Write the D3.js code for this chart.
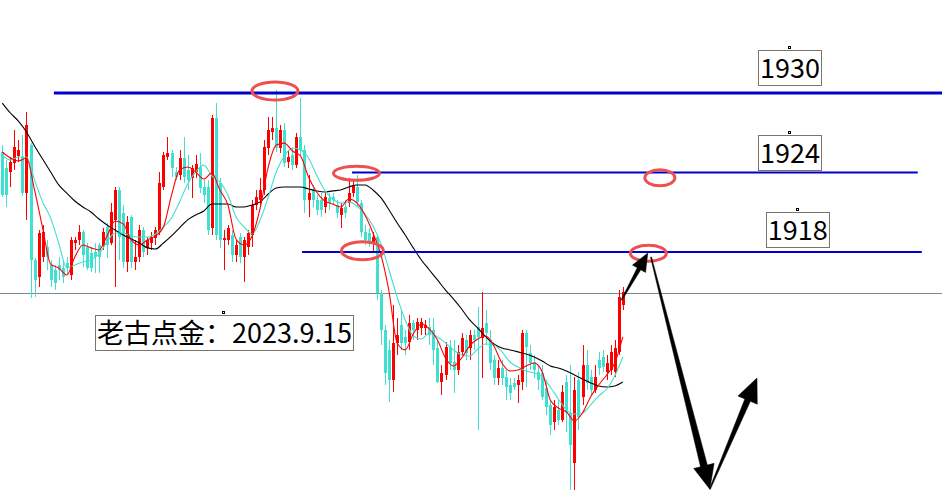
<!DOCTYPE html>
<html>
<head>
<meta charset="utf-8">
<script src="https://cdn.jsdelivr.net/npm/d3@7"></script>
<style>
  html, body { margin: 0; padding: 0; background: #ffffff; overflow: hidden; }
  svg { display: block; }
</style>
</head>
<body>
<svg id="chart" width="942" height="494"></svg>
<script>
// XAUUSD candles, one value per bar (oldest first)
const open = [1925.55,1924.34,1924.04,1924.71,1925.25,1925.17,1922.45,1926.07,1917.40,1916.11,
1917.62,1918.38,1917.02,1916.64,1917.02,1916.80,1917.17,1916.26,1918.68,1918.91,
1919.51,1918.38,1917.92,1918.00,1918.53,1918.53,1919.89,1918.68,1920.42,1922.68,
1920.94,1917.25,1920.64,1917.25,1917.62,1919.66,1918.31,1918.68,1919.06,1919.51,
1922.91,1925.17,1925.47,1924.04,1923.81,1925.10,1924.19,1923.59,1924.04,1924.41,
1922.91,1922.91,1919.82,1928.12,1923.21,1918.91,1918.91,1919.28,1917.77,1919.13,
1917.62,1918.38,1919.28,1921.55,1921.93,1922.68,1925.85,1927.06,1927.36,1925.85,
1927.21,1924.79,1925.32,1924.56,1926.68,1925.70,1921.93,1922.68,1921.93,1921.93,
1921.40,1922.08,1922.15,1921.55,1920.79,1921.40,1921.70,1922.45,1922.91,1921.70,
1919.51,1919.43,1918.68,1919.13,1914.90,1912.11,1910.61,1908.34,1911.13,1912.49,
1911.59,1911.21,1912.64,1912.11,1912.26,1912.26,1912.34,1912.11,1910.76,1908.19,
1908.72,1910.83,1909.70,1909.10,1910.46,1911.36,1910.76,1911.74,1912.34,1911.51,
1912.64,1911.36,1909.85,1908.49,1909.25,1908.57,1907.96,1908.12,1907.96,1908.19,
1911.89,1910.38,1909.70,1908.95,1908.87,1907.74,1906.45,1905.17,1906.08,1905.32,
1908.19,1905.85,1902.08,1908.34,1907.06,1909.47,1908.57,1907.59,1909.85,1910.08,
1908.95,1909.10,1908.95,1910.46,1914.00];

const high = [1926.07,1924.94,1925.17,1927.21,1926.45,1926.83,1928.57,1926.22,1917.55,1919.66,
1920.04,1918.91,1917.40,1917.02,1917.62,1917.40,1917.62,1919.13,1919.13,1920.04,
1919.66,1918.68,1918.38,1918.68,1918.68,1919.82,1920.19,1921.70,1922.91,1922.91,
1921.55,1920.72,1920.79,1918.91,1920.04,1919.89,1919.13,1919.51,1919.89,1924.04,
1925.55,1926.68,1925.70,1924.41,1925.70,1926.68,1925.32,1924.56,1925.32,1925.47,
1923.44,1923.44,1928.34,1929.24,1923.59,1919.66,1920.04,1919.66,1918.91,1919.43,
1919.13,1919.66,1921.93,1922.68,1923.59,1926.45,1928.19,1928.19,1930.23,1927.58,
1927.73,1925.70,1925.85,1926.98,1929.63,1926.07,1923.81,1923.06,1922.30,1922.45,
1922.45,1922.45,1922.45,1921.93,1921.70,1921.93,1923.59,1923.44,1923.81,1921.93,
1920.04,1919.82,1919.51,1919.28,1915.13,1912.49,1911.36,1914.00,1913.02,1913.62,
1912.11,1913.25,1912.87,1913.02,1913.02,1912.87,1913.02,1913.02,1911.36,1909.47,
1911.21,1911.36,1911.36,1910.98,1911.89,1911.74,1912.11,1912.11,1913.85,1914.98,
1913.62,1912.11,1910.23,1909.85,1909.85,1909.10,1908.49,1908.49,1908.72,1912.11,
1912.11,1910.98,1910.23,1909.47,1909.47,1908.34,1906.83,1906.83,1906.83,1907.96,
1908.72,1909.47,1908.57,1908.95,1910.98,1910.61,1909.10,1909.47,1910.46,1910.61,
1910.23,1910.98,1911.36,1915.13,1915.36];

const low = [1922.15,1921.40,1922.91,1924.19,1924.79,1922.23,1920.42,1914.53,1914.60,1915.36,
1917.25,1916.64,1915.36,1915.13,1915.89,1915.66,1916.26,1915.89,1918.15,1918.53,
1916.87,1916.64,1916.49,1916.41,1916.41,1918.15,1917.55,1918.53,1915.36,1917.40,
1916.80,1916.49,1916.80,1916.64,1917.25,1917.62,1917.77,1918.15,1918.53,1919.28,
1922.68,1924.94,1923.66,1923.44,1923.44,1923.21,1922.68,1922.08,1923.59,1922.45,
1921.70,1919.28,1919.28,1918.91,1918.31,1916.64,1918.53,1917.25,1917.25,1917.17,
1915.74,1917.77,1918.38,1921.17,1921.55,1922.30,1925.32,1926.45,1925.55,1925.47,
1924.41,1924.34,1924.19,1924.34,1925.32,1920.94,1920.64,1921.40,1920.79,1920.64,
1920.94,1921.17,1921.55,1920.57,1919.82,1920.57,1921.40,1922.15,1921.40,1919.13,
1918.53,1918.38,1917.92,1914.38,1910.98,1907.96,1906.68,1907.44,1910.23,1910.61,
1910.23,1910.61,1911.36,1911.36,1911.74,1911.74,1910.98,1909.47,1908.12,1907.21,
1908.34,1909.10,1907.36,1908.72,1910.23,1909.85,1909.85,1910.61,1904.57,1908.49,
1910.98,1909.10,1907.96,1907.96,1907.96,1906.83,1906.83,1907.59,1906.60,1907.59,
1907.81,1909.10,1908.49,1907.59,1906.83,1905.70,1904.19,1904.57,1904.94,1905.17,
1904.42,1900.04,1900.04,1904.57,1906.45,1907.59,1907.21,1907.36,1908.72,1908.95,
1908.34,1908.72,1908.57,1910.23,1913.62];

const close = [1922.30,1922.30,1924.79,1925.92,1925.70,1922.45,1927.58,1917.40,1915.89,1919.43,
1919.51,1917.62,1915.89,1915.66,1916.64,1916.11,1916.87,1918.91,1918.91,1919.51,
1917.77,1916.80,1916.80,1917.62,1917.62,1919.51,1918.53,1921.02,1922.68,1919.13,
1917.25,1920.27,1917.25,1917.62,1919.66,1918.00,1918.91,1919.13,1919.66,1923.21,
1925.32,1925.47,1924.34,1923.66,1925.10,1923.66,1923.44,1924.34,1924.64,1922.84,
1922.30,1919.66,1928.12,1919.28,1918.91,1919.06,1919.82,1917.77,1918.53,1917.62,
1918.91,1919.43,1921.55,1922.15,1922.68,1925.92,1927.21,1927.36,1925.85,1927.21,
1924.71,1925.17,1924.56,1926.68,1925.70,1921.93,1922.45,1921.93,1921.17,1921.17,
1922.15,1921.70,1921.93,1920.94,1921.32,1920.94,1922.45,1923.06,1921.78,1919.51,
1918.91,1918.76,1919.13,1914.90,1912.11,1908.87,1908.34,1911.13,1911.74,1911.13,
1911.13,1912.64,1912.11,1912.72,1912.72,1912.49,1911.74,1910.61,1908.19,1908.87,
1910.83,1909.62,1909.10,1910.46,1911.51,1910.38,1911.74,1911.36,1911.59,1912.26,
1911.89,1909.62,1908.49,1909.25,1908.49,1907.81,1907.36,1907.81,1908.34,1911.89,
1910.83,1909.62,1909.10,1908.34,1907.06,1906.30,1904.94,1906.30,1905.32,1907.44,
1905.85,1903.43,1907.59,1905.55,1909.47,1908.12,1907.59,1908.57,1909.25,1909.32,
1909.62,1910.46,1910.76,1914.60,1914.98];

// moving averages, one reading every MA_STEP bars
const MA_STEP = 2;
const maFast = [1925.55,1925.10,1924.87,1925.10,1922.68,1919.82,1917.09,1916.80,1916.26,1917.62,
1918.53,1918.31,1918.15,1919.21,1920.34,1920.12,1918.91,1918.53,1918.91,1919.21,
1919.89,1922.30,1924.19,1924.41,1924.04,1923.51,1923.96,1922.68,1921.55,1918.98,
1918.53,1919.21,1921.32,1924.41,1926.07,1926.22,1925.62,1925.25,1923.66,1922.53,
1921.85,1921.62,1921.40,1922.00,1921.70,1920.79,1919.43,1917.77,1914.98,1911.13,
1910.61,1911.81,1912.57,1912.19,1911.36,1910.00,1909.40,1910.00,1910.91,1911.43,
1911.66,1910.91,1909.62,1909.02,1909.10,1909.40,1909.62,1908.95,1906.83,1906.23,
1905.93,1905.25,1905.85,1907.06,1907.96,1908.72,1909.62,1911.59];

const maMid = [1925.32,1924.94,1925.17,1925.17,1923.44,1921.78,1920.57,1918.68,1916.80,1917.02,
1917.25,1917.40,1917.85,1918.76,1919.43,1919.43,1919.21,1919.13,1919.13,1919.36,
1919.89,1920.57,1921.78,1923.13,1924.04,1924.56,1923.74,1923.29,1922.30,1920.64,
1919.89,1919.36,1920.42,1922.15,1924.04,1925.25,1925.85,1925.70,1925.10,1923.81,
1922.68,1922.00,1921.70,1921.78,1921.47,1920.87,1919.96,1918.60,1916.64,1914.60,
1912.87,1911.66,1911.43,1911.89,1911.59,1911.13,1910.61,1910.23,1910.15,1910.68,
1911.06,1910.98,1910.46,1909.70,1909.32,1909.02,1908.87,1908.57,1907.81,1906.91,
1906.08,1905.77,1905.85,1906.45,1907.13,1907.66,1908.64,1910.08];

const maSlow = [1929.24,1928.49,1927.88,1927.06,1926.00,1925.02,1924.04,1923.06,1922.45,1921.85,
1921.40,1921.02,1920.49,1920.04,1919.66,1919.28,1918.98,1918.68,1918.31,1918.23,
1918.68,1919.21,1919.82,1920.42,1920.79,1921.09,1921.62,1921.62,1921.62,1921.40,
1921.40,1921.55,1921.78,1922.38,1922.83,1922.91,1922.91,1922.91,1922.76,1922.61,
1922.53,1922.61,1922.68,1922.91,1923.06,1923.06,1922.68,1922.08,1921.17,1920.19,
1919.28,1918.31,1917.40,1916.64,1915.89,1915.13,1914.45,1913.70,1912.87,1912.26,
1911.59,1911.06,1910.76,1910.61,1910.46,1910.30,1910.08,1909.77,1909.40,1909.25,
1909.02,1908.72,1908.42,1908.12,1907.89,1907.81,1907.89,1908.19];

// key levels and their labels
const levels = [1930, 1924, 1918];
const levelLabels = ["1930", "1924", "1918"];
const lastPrice = 1914.9;
const title = "老古点金：2023.9.15";

const W = 942, H = 494;
const svg = d3.select("#chart");

const x = d3.scaleLinear().domain([0, open.length - 1]).range([2.3, 622.8]);
const y = d3.scaleLinear().domain([1900, 1930]).range([490.5, 93]);

const UP = "#ff0000", DOWN = "#40e0d0";

// last price line
svg.append("line")
  .attr("x1", 0).attr("x2", W)
  .attr("y1", Math.round(y(lastPrice)) + 0.5).attr("y2", Math.round(y(lastPrice)) + 0.5)
  .attr("stroke", "#778899").attr("stroke-width", 1)
  .attr("shape-rendering", "crispEdges");

// candles
const bars = d3.range(open.length).map(i => ({
  i, o: open[i], h: high[i], l: low[i], c: close[i]
}));
const gC = svg.append("g").attr("shape-rendering", "crispEdges");
gC.selectAll("line.wick").data(bars).join("line")
  .attr("class", "wick")
  .attr("x1", d => Math.round(x(d.i)) + 0.5)
  .attr("x2", d => Math.round(x(d.i)) + 0.5)
  .attr("y1", d => y(d.h)).attr("y2", d => y(d.l))
  .attr("stroke", d => d.c >= d.o ? UP : DOWN)
  .attr("stroke-width", 1);
gC.selectAll("rect.body").data(bars).join("rect")
  .attr("class", "body")
  .attr("x", d => Math.round(x(d.i)) - 1)
  .attr("width", 3)
  .attr("y", d => Math.min(y(d.o), y(d.c)))
  .attr("height", d => Math.max(1, Math.abs(y(d.o) - y(d.c))))
  .attr("fill", d => d.c >= d.o ? UP : DOWN);

// moving averages
const maLine = d3.line()
  .x((v, k) => x(k * MA_STEP))
  .y(v => y(v))
  .curve(d3.curveMonotoneX);
[[maSlow, "#000000"], [maMid, DOWN], [maFast, UP]].forEach(([s, col]) => {
  svg.append("path").attr("d", maLine(s))
    .attr("fill", "none").attr("stroke", col).attr("stroke-width", 1.1);
});

// horizontal level lines: [level, start bar, end bar (null = right edge), width]
const levelSpans = [[1930, 12.8, null, 3], [1924, 86.8, 227.2, 2], [1918, 74.4, 228.2, 2]];
levelSpans.forEach(([lv, a, b, w]) => {
  svg.append("line")
    .attr("x1", x(a)).attr("x2", b == null ? W : x(b))
    .attr("y1", y(lv)).attr("y2", y(lv))
    .attr("stroke", "#0000cd").attr("stroke-width", w);
});

// ellipse markers: [bar, price, rx, ry]
const marks = [[67.67, 1930.15, 23, 9], [87.9, 1923.94, 23, 7], [89.38, 1918.09, 21, 9],
               [163.2, 1923.6, 15, 8], [160.35, 1917.9, 18, 8]];
svg.selectAll("ellipse.mk").data(marks).join("ellipse")
  .attr("class", "mk")
  .attr("cx", d => x(d[0])).attr("cy", d => y(d[1]))
  .attr("rx", d => d[2]).attr("ry", d => d[3])
  .attr("fill", "none").attr("stroke", "#ee5050").attr("stroke-width", 3);

// boxed text labels
const FONT = "'Noto Sans CJK SC', 'Noto Sans', sans-serif";
function boxedText(txt, tx, ty, anchor) {
  const g = svg.append("g");
  const t = g.append("text").text(txt)
    .attr("x", tx).attr("y", ty)
    .attr("text-anchor", anchor)
    .attr("font-family", FONT).attr("font-size", 27)
    .attr("fill", "#000");
  const bb = t.node().getBBox();
  g.insert("rect", "text")
    .attr("x", Math.round(bb.x - 2) + 0.5).attr("y", Math.round(ty - 28) + 0.5)
    .attr("width", Math.round(bb.width + 3)).attr("height", 35)
    .attr("fill", "#fff").attr("stroke", "#7f7366").attr("stroke-width", 1)
    .attr("shape-rendering", "crispEdges");
  const cx = Math.round(bb.x + bb.width / 2);
  g.append("rect")
    .attr("x", cx - 1.5).attr("y", Math.round(ty - 32) + 0.5)
    .attr("width", 2).attr("height", 2)
    .attr("fill", "#fff").attr("stroke", "#000").attr("stroke-width", 1)
    .attr("shape-rendering", "crispEdges");
}
// [label, bar at centre, pixel offset of baseline above the level]
const labelPos = [[195.5, 15], [195.5, 10], [197.4, 12]];
levels.forEach((lv, k) => {
  boxedText(levelLabels[k], x(labelPos[k][0]), y(lv) - labelPos[k][1], "middle");
});
boxedText(title, 97, 343, "start");

// projected path arrows: [from bar, from price, to bar, to price, tail w, neck w, head len, head half-width]
const arrows = [
  [153.7, 1914.38, 160.2, 1917.92, 1, 4, 18, 7.5],
  [161.0, 1917.62, 175.6, 1900.10, 1, 7, 24, 10.5],
  [175.6, 1900.10, 187.3, 1908.49, 1, 6, 24, 10.5]
];
function arrowPts(x0, y0, x1, y1, w0, w1, hl, hw) {
  const dx = x1 - x0, dy = y1 - y0, L = Math.hypot(dx, dy);
  const ux = dx / L, uy = dy / L, nx = -uy, ny = ux;
  const bx = x1 - ux * hl, by = y1 - uy * hl;
  return [
    [x0 + nx * w0 / 2, y0 + ny * w0 / 2],
    [bx + nx * w1 / 2, by + ny * w1 / 2],
    [bx + nx * hw, by + ny * hw],
    [x1, y1],
    [bx - nx * hw, by - ny * hw],
    [bx - nx * w1 / 2, by - ny * w1 / 2],
    [x0 - nx * w0 / 2, y0 - ny * w0 / 2]
  ];
}
arrows.forEach(a => {
  const p = arrowPts(x(a[0]), y(a[1]), x(a[2]), y(a[3]), a[4], a[5], a[6], a[7]);
  svg.append("polygon").attr("points", p.map(q => q.join(",")).join(" "))
    .attr("fill", "#000").attr("stroke", "#000").attr("stroke-width", 0.5);
});
</script>
</body>
</html>
